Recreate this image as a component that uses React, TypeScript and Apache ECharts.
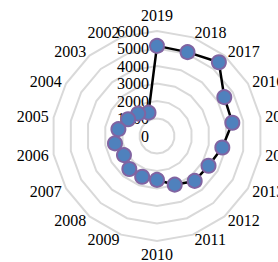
import React, { useEffect, useRef } from "react";
import * as echarts from "echarts";

const years = [
  "2002", "2003", "2004", "2005", "2006", "2007", "2008", "2009", "2010",
  "2011", "2012", "2013", "2014", "2015", "2016", "2017", "2018", "2019",
];
const values = [
  1420, 1670, 1910, 2240, 2440, 2180, 2460, 2480, 2510,
  2960, 3350, 3400, 3790, 4370, 4440, 5500, 5100, 5150,
];
const axisMin = 0;
const axisMax = 6000;
const labelAxisYear = "2019";

const FONT = '"Liberation Serif", "Times New Roman", serif';

export default function App() {
  const ref = useRef<HTMLDivElement>(null);
  useEffect(() => {
    if (!ref.current) return;
    const chart = echarts.init(ref.current, null, { renderer: "svg" });
    chart.setOption({
      animation: false,
      backgroundColor: "#fff",
      radar: {
        center: [157, 136],
        radius: 105,
        startAngle: 110,
        splitNumber: 6,
        shape: "polygon",
        nameGap: 5,
        axisName: { color: "#000", fontSize: 16, fontFamily: FONT },
        axisLine: { show: false },
        axisTick: { show: false },
        splitLine: { lineStyle: { color: "#d9d9d9", width: 2 } },
        splitArea: { show: false },
        axisLabel: { show: false },
        indicator: years.map((y) => ({
          name: y,
          min: axisMin,
          max: axisMax,
          ...(y === labelAxisYear
            ? {
                axisLabel: {
                  show: true,
                  color: "#000",
                  fontSize: 16,
                  fontFamily: FONT,
                  margin: 8,
                  formatter: (v: number) => String(v),
                },
              }
            : {}),
        })),
      },
      series: [
        {
          type: "radar",
          symbol: "circle",
          symbolSize: 14,
          lineStyle: { color: "#000", width: 2.5 },
          itemStyle: { color: "#4f81bd", borderColor: "#8064a2", borderWidth: 2 },
          data: [{ value: values }],
        },
      ],
    });
    return () => chart.dispose();
  }, []);
  return (
    <div
      ref={ref}
      style={{ position: "fixed", left: 0, top: 0, width: 278, height: 262 }}
    />
  );
}
